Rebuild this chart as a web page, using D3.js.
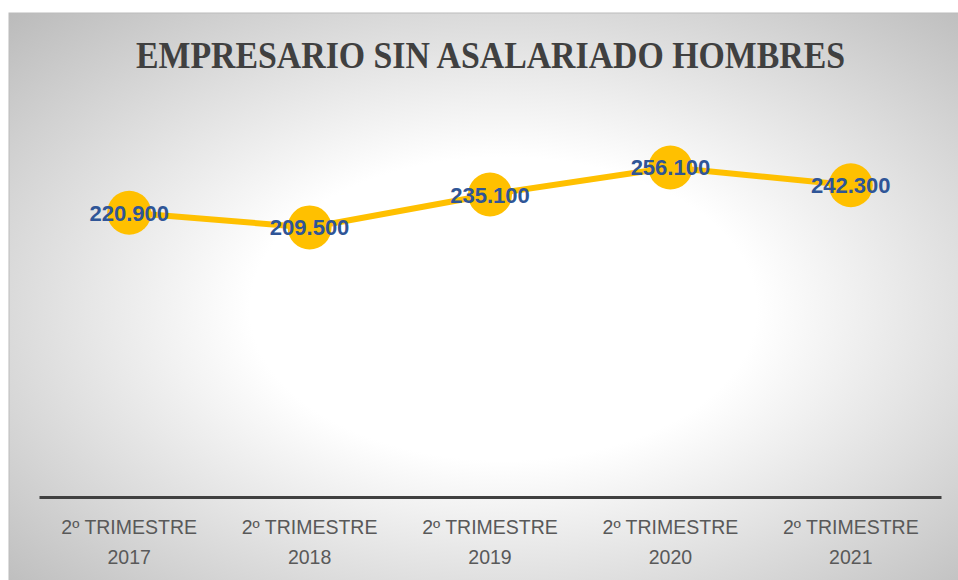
<!DOCTYPE html>
<html lang="es">
<head>
  <meta charset="UTF-8">
  <title>Empresario sin asalariado hombres</title>
  <script src="https://d3js.org/d3.v7.min.js"></script>
  <style>
    html, body { margin: 0; padding: 0; background: #fff; }
    svg { display: block; }
  </style>
</head>
<body>
<script>
// data
var categories = ["2º TRIMESTRE 2017", "2º TRIMESTRE 2018", "2º TRIMESTRE 2019", "2º TRIMESTRE 2020", "2º TRIMESTRE 2021"];
var values = [220.9, 209.5, 235.1, 256.1, 242.3];
var labels = ["220.900", "209.500", "235.100", "256.100", "242.300"];
var title = "EMPRESARIO SIN ASALARIADO HOMBRES";

var W = 958, H = 580;
var svg = d3.select("body").append("svg")
  .attr("width", W)
  .attr("height", H);

// background gradient like the office chart area
var defs = svg.append("defs");
var grad = defs.append("radialGradient")
  .attr("id", "bg")
  .attr("cx", "52%").attr("cy", "52%")
  .attr("r", "74%");
grad.append("stop").attr("offset", "0%").attr("stop-color", "#ffffff");
grad.append("stop").attr("offset", "36%").attr("stop-color", "#ffffff");
grad.append("stop").attr("offset", "100%").attr("stop-color", "#bababa");

svg.append("rect")
  .attr("x", 9).attr("y", 13)
  .attr("width", W - 9 + 2).attr("height", H - 13 + 2)
  .attr("fill", "url(#bg)")
  .attr("stroke", "#bcbcbc")
  .attr("stroke-width", 1);

// title
svg.append("text")
  .attr("x", 136)
  .attr("y", 68)
  .attr("textLength", 709)
  .attr("lengthAdjust", "spacingAndGlyphs")
  .style("font-family", "'Liberation Serif', 'DejaVu Serif', serif")
  .style("font-weight", "bold")
  .style("font-size", "38px")
  .style("fill", "#404040")
  .text(title);

// scales
var margin = {left: 39, right: 17, top: 111, bottom: 83};
var x = d3.scaleBand().domain(categories).range([margin.left, W - margin.right]);
var y = d3.scaleLinear().domain([0, 300]).range([H - margin.bottom, margin.top]);

// category axis
var xAxis = svg.append("g")
  .attr("transform", "translate(0," + y(0) + ")")
  .call(d3.axisBottom(x).tickSize(0).tickFormat(""));
xAxis.select(".domain")
  .attr("stroke", "#404040")
  .attr("stroke-width", 3);

var catLabels = svg.append("g").selectAll("text")
  .data(categories)
  .enter().append("text")
  .attr("x", function(d) { return x(d) + x.bandwidth() / 2; })
  .attr("y", y(0) + 37)
  .attr("text-anchor", "middle")
  .style("font-family", "'Liberation Sans', Arial, sans-serif")
  .style("font-size", "19.5px")
  .style("fill", "#595959");
catLabels.append("tspan")
  .attr("x", function(d) { return x(d) + x.bandwidth() / 2; })
  .text(function(d) { return d.split(" ").slice(0, 2).join(" "); });
catLabels.append("tspan")
  .attr("x", function(d) { return x(d) + x.bandwidth() / 2; })
  .attr("dy", 30)
  .text(function(d) { return d.split(" ")[2]; });

// line + markers
var pts = categories.map(function(c, i) { return {c: c, v: values[i], l: labels[i]}; });
var line = d3.line()
  .x(function(d) { return x(d.c) + x.bandwidth() / 2; })
  .y(function(d) { return y(d.v); });

svg.append("path")
  .datum(pts)
  .attr("d", line)
  .attr("fill", "none")
  .attr("stroke", "#ffc000")
  .attr("stroke-width", 6)
  .attr("stroke-linejoin", "round");

svg.append("g").selectAll("circle")
  .data(pts)
  .enter().append("circle")
  .attr("cx", function(d) { return x(d.c) + x.bandwidth() / 2; })
  .attr("cy", function(d) { return y(d.v); })
  .attr("r", 22)
  .attr("fill", "#ffc000");

// data labels
svg.append("g").selectAll("text")
  .data(pts)
  .enter().append("text")
  .attr("x", function(d) { return x(d.c) + x.bandwidth() / 2; })
  .attr("y", function(d) { return y(d.v) + 8; })
  .attr("text-anchor", "middle")
  .style("font-family", "'Liberation Sans', Arial, sans-serif")
  .style("font-weight", "bold")
  .style("font-size", "22px")
  .style("fill", "#2f5597")
  .text(function(d) { return d.l; });
</script>
</body>
</html>
